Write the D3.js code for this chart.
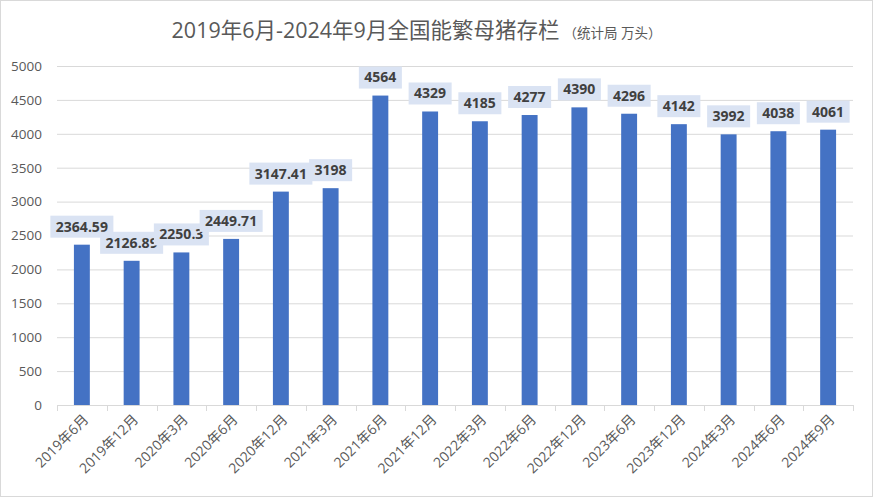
<!DOCTYPE html>
<html><head><meta charset="utf-8">
<script src="https://cdn.jsdelivr.net/npm/d3@7/dist/d3.min.js"></script>
<style>
html,body{margin:0;padding:0;background:#fff;}
svg{display:block;}
</style></head>
<body><svg id="chart" width="873" height="497"></svg>
<script>
const categories = ["2019年6月","2019年12月","2020年3月","2020年6月","2020年12月","2021年3月","2021年6月","2021年12月","2022年3月","2022年6月","2022年12月","2023年6月","2023年12月","2024年3月","2024年6月","2024年9月"];
const values = [2364.59,2126.89,2250.3,2449.71,3147.41,3198,4564,4329,4185,4277,4390,4296,4142,3992,4038,4061];
const yTicks = [0,500,1000,1500,2000,2500,3000,3500,4000,4500,5000];
const titleMain = "2019年6月-2024年9月全国能繁母猪存栏";
const titleSub = "（统计局 万头）";

const svg = d3.select("#chart");
const W = 873, H = 497;
const m = {left:57, right:20, top:66, bottom:92};
const font = "'Open Sans','Noto Sans CJK SC',sans-serif";

svg.append("rect").attr("x",0.5).attr("y",0.5).attr("width",W-1).attr("height",H-1)
  .attr("fill","#fff").attr("stroke","#d9d9d9");

const x = d3.scaleBand().domain(categories).range([m.left, W-m.right]).paddingInner(0.68).paddingOuter(0.34);
const y = d3.scaleLinear().domain([0,5000]).range([H-m.bottom, m.top]);

// gridlines
const yAxis = d3.axisLeft(y).tickValues(yTicks).tickFormat(d3.format("d")).tickSize(-(W-m.right-m.left)).tickPadding(15);
const gy = svg.append("g").attr("transform",`translate(${m.left},0)`).call(yAxis);
gy.select(".domain").remove();
gy.selectAll(".tick line").attr("stroke","#d9d9d9").attr("stroke-width",1);
gy.selectAll(".tick text").attr("fill","#595959").style("font-family",font).style("font-size","13.5px");

// bars
svg.append("g").selectAll("rect").data(values).join("rect")
  .attr("x",(d,i)=>x(categories[i]))
  .attr("width",x.bandwidth())
  .attr("y",d=>y(d))
  .attr("height",d=>y(0)-y(d))
  .attr("fill","#4472c4");

// x axis
const step = x.step();
const xAxisG = svg.append("g").attr("transform",`translate(0,${y(0)})`);
xAxisG.append("line").attr("x1",m.left).attr("x2",W-m.right).attr("y1",0.5).attr("y2",0.5).attr("stroke","#d9d9d9");
const bounds = d3.range(categories.length+1).map(i=>m.left + i*step);
xAxisG.selectAll("line.tk").data(bounds).join("line").attr("class","tk")
  .attr("x1",d=>Math.round(d)+0.5).attr("x2",d=>Math.round(d)+0.5).attr("y1",0).attr("y2",6).attr("stroke","#d9d9d9");
xAxisG.selectAll("text").data(categories).join("text")
  .attr("transform",d=>`translate(${x(d)+x.bandwidth()/2+4},${12}) rotate(-45)`)
  .attr("text-anchor","end").attr("dy","0.35em")
  .attr("fill","#595959").style("font-family",font).style("font-size","14px")
  .text(d=>d);

// labels
const lg = svg.append("g");
values.forEach((v,i)=>{
  const cx = x(categories[i]) + x.bandwidth()/2;
  const g = lg.append("g");
  const t = g.append("text").attr("x",cx).attr("y",y(v)-18).attr("text-anchor","middle").attr("dy","0.35em")
    .attr("fill","#404040").style("font-family",font).style("font-size","14px").style("font-weight","bold")
    .text(String(v));
  const w = t.node().getComputedTextLength();
  g.insert("rect","text").attr("x",cx-w/2-5.5).attr("y",y(v)-29).attr("width",w+11).attr("height",22).attr("fill","#dae3f3");
});

// title
const title = svg.append("text").attr("x",W/2-20).attr("y",38).attr("text-anchor","middle")
  .style("font-family",font).attr("fill","#595959");
title.append("tspan").style("font-size","21.5px").text(titleMain);
title.append("tspan").style("font-size","13.5px").attr("dx",4).text(titleSub);
</script></body></html>
